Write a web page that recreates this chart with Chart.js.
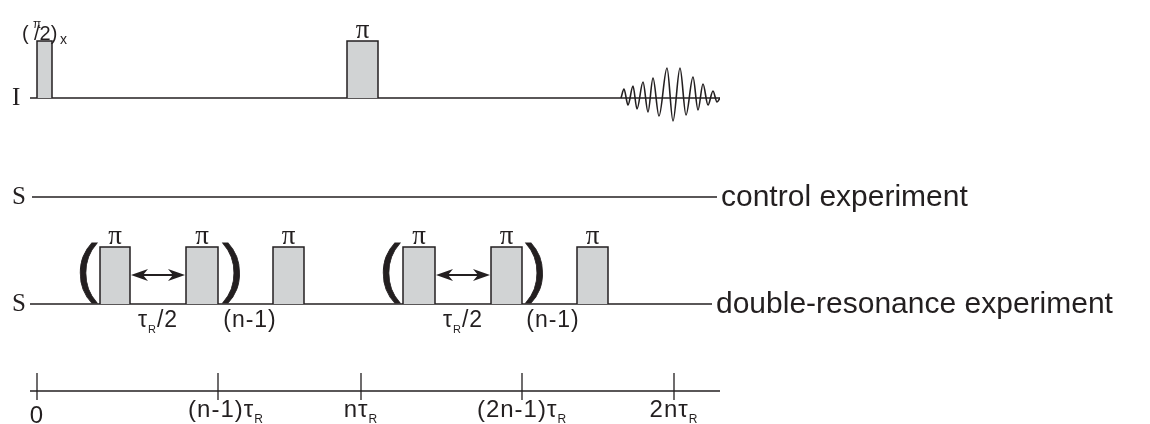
<!DOCTYPE html>
<html lang="en">
<head>
<meta charset="UTF-8">
<title>REDOR pulse sequence</title>
<style>
  html, body { margin: 0; padding: 0; background: #fff; }
  canvas { display: block; }
</style>
</head>
<body>
<canvas id="seq" width="1150" height="424"></canvas>
<script src="https://cdn.jsdelivr.net/npm/chart.js"></script>
<script>
// time runs left to right in diagram units (0 = start of the sequence),
// heights are counted up from the time axis
const timeTicks = [0, 181, 324, 485, 637];
const timeTickText = ['0', '(n-1)τ', 'nτ', '(2n-1)τ', '2nτ'];
const timeTickSub = ['', 'R', 'R', 'R', 'R'];

const channelNames = ['I', 'S', 'S'];
const channelLevel = [293, 194, 87];
const channelFrom = [-7, -5, -7];
const channelTo = [683, 680, 675];
const channelNotes = ['', 'control experiment', 'double-resonance experiment'];

const iPulseOn = [0, 310];
const iPulseOff = [15, 341];
const sPulseOn = [63, 149, 236, 366, 454, 540];
const sPulseOff = [93, 181, 267, 398, 485, 571];

const fidTime = [584, 587, 591, 596, 600, 606, 611, 616, 622, 630, 636, 643, 649, 656, 661, 666, 671, 676, 680, 683];
const fidAmp = [0, 9, -7, 12, -11, 16, -14, 20, -18, 30, -23, 30, -17, 21, -12, 14, -7, 7, -4, 0];

// (pi <-tauR/2-> pi) repeated n-1 times, then one more pi
const loopOpen = [50, 353];
const loopClose = [196, 499];
const arrowPairs = [[0, 1], [3, 4]];

const pulseHeight = 57;
const arrowHeight = 29;

const ink = '#231f20';
const grey = '#d1d3d4';
const sans = '"Liberation Sans", Arial, sans-serif';
const serif = '"Liberation Serif", "Times New Roman", serif';

function lineSet(points, width) {
  return {
    data: points,
    borderColor: ink,
    borderWidth: width || 1.5,
    pointRadius: 0,
    fill: false,
    tension: 0
  };
}

function pulseSet(on, off, lv) {
  return {
    data: [
      { x: on, y: lv },
      { x: on, y: lv + pulseHeight },
      { x: off, y: lv + pulseHeight },
      { x: off, y: lv }
    ],
    borderColor: ink,
    borderWidth: 1.5,
    backgroundColor: grey,
    fill: { value: lv },
    pointRadius: 0,
    tension: 0
  };
}

var datasets = [];
for (var i = 0; i < iPulseOn.length; i++) datasets.push(pulseSet(iPulseOn[i], iPulseOff[i], channelLevel[0]));
for (var i = 0; i < sPulseOn.length; i++) datasets.push(pulseSet(sPulseOn[i], sPulseOff[i], channelLevel[2]));

var fid = lineSet(fidTime.map((t, k) => ({ x: t, y: channelLevel[0] + fidAmp[k] })), 1.6);
fid.cubicInterpolationMode = 'monotone';
datasets.push(fid);

channelLevel.forEach((lv, k) => {
  datasets.push(lineSet([{ x: channelFrom[k], y: lv }, { x: channelTo[k], y: lv }]));
});

// time axis and its ticks
datasets.push(lineSet([{ x: -7, y: 0 }, { x: 683, y: 0 }], 1.3));
timeTicks.forEach(t => datasets.push(lineSet([{ x: t, y: 18 }, { x: t, y: -9 }], 1.3)));

// text with an optional lowered small part, e.g. tau with subscript R
function drawRun(ctx, parts, x, y, size, align) {
  var subSize = Math.round(size * 0.48);
  var widths = parts.map(p => {
    ctx.font = (p[1] ? subSize : size) + 'px ' + sans;
    return ctx.measureText(p[0]).width;
  });
  var total = widths.reduce((a, b) => a + b, 0);
  var left = align === 'center' ? x - total / 2 : x;
  ctx.textAlign = 'left';
  parts.forEach((p, k) => {
    ctx.font = (p[1] ? subSize : size) + 'px ' + sans;
    ctx.fillText(p[0], left, p[1] ? y + 6 : y);
    left += widths[k];
  });
}

function arrowHead(ctx, x, y, dir) {
  ctx.beginPath();
  ctx.moveTo(x, y);
  ctx.lineTo(x - dir * 17, y - 6);
  ctx.lineTo(x - dir * 12, y);
  ctx.lineTo(x - dir * 17, y + 6);
  ctx.closePath();
  ctx.fill();
}

const labels = {
  id: 'labels',
  afterDraw(chart) {
    const ctx = chart.ctx;
    const xs = chart.scales.x, ys = chart.scales.y;
    const px = v => xs.getPixelForValue(v);
    const py = v => ys.getPixelForValue(v);
    ctx.save();
    ctx.fillStyle = ink;
    ctx.strokeStyle = ink;
    ctx.textBaseline = 'alphabetic';

    // channel names and notes
    channelNames.forEach((name, k) => {
      ctx.font = '25px ' + serif;
      ctx.textAlign = 'left';
      ctx.fillText(name, 12, py(channelLevel[k]) + 6.5);
      if (channelNotes[k]) {
        ctx.font = '30px ' + sans;
        ctx.fillText(channelNotes[k], px(channelTo[k]) + 4, py(channelLevel[k]) + 9);
      }
    });

    // pulse flip angles
    ctx.textAlign = 'center';
    ctx.font = '27px ' + serif;
    const topI = py(channelLevel[0] + pulseHeight);
    ctx.fillText('π', (px(iPulseOn[1]) + px(iPulseOff[1])) / 2, topI - 3);
    const topS = py(channelLevel[2] + pulseHeight);
    sPulseOn.forEach((on, k) => ctx.fillText('π', (px(on) + px(sPulseOff[k])) / 2, topS - 3));

    // (pi/2)x on the first I pulse
    const l0 = px(iPulseOn[0]);
    ctx.textAlign = 'left';
    ctx.font = '20px ' + sans;
    ctx.fillText('(', l0 - 15, topI - 1);
    ctx.fillText('/2)', l0 - 3, topI - 1);
    ctx.font = '12px ' + sans;
    ctx.fillText('π', l0 - 4, topI - 13);
    ctx.font = '14px ' + sans;
    ctx.fillText('x', l0 + 23, topI + 3);

    // loop brackets
    ctx.textAlign = 'center';
    ctx.font = '64px ' + sans;
    ctx.lineWidth = 0.8;
    const by = py(channelLevel[2]) - 14;
    loopOpen.forEach(v => { ctx.fillText('(', px(v), by); ctx.strokeText('(', px(v), by); });
    loopClose.forEach(v => { ctx.fillText(')', px(v), by); ctx.strokeText(')', px(v), by); });

    // tauR/2 arrows
    const ay = py(channelLevel[2] + arrowHeight);
    const baseS = py(channelLevel[2]);
    arrowPairs.forEach(pr => {
      const a = px(sPulseOff[pr[0]]) + 1, b = px(sPulseOn[pr[1]]) - 1;
      ctx.lineWidth = 2.2;
      ctx.beginPath();
      ctx.moveTo(a + 10, ay);
      ctx.lineTo(b - 10, ay);
      ctx.stroke();
      arrowHead(ctx, a, ay, -1);
      arrowHead(ctx, b, ay, 1);
      ctx.letterSpacing = '1px';
      drawRun(ctx, [['τ', 0], ['R', 1], ['/2', 0]], (a + b) / 2, baseS + 23, 23, 'center');
      ctx.letterSpacing = '0px';
    });
    loopClose.forEach(v => {
      ctx.letterSpacing = '1px';
      drawRun(ctx, [['(n-1)', 0]], px(v + 17), baseS + 23, 23, 'center');
      ctx.letterSpacing = '0px';
    });

    // time axis labels
    const axisY = py(0);
    timeTicks.forEach((t, k) => {
      ctx.letterSpacing = '1px';
      const parts = [[timeTickText[k], 0]];
      if (timeTickSub[k]) parts.push([timeTickSub[k], 1]);
      drawRun(ctx, parts, px(t) + (k === 1 ? 8 : 0), axisY + (k === 0 ? 32 : 26), 24, 'center');
      ctx.letterSpacing = '0px';
    });
    ctx.restore();
  }
};

new Chart(document.getElementById('seq'), {
  type: 'line',
  data: { datasets: datasets },
  options: {
    responsive: false,
    devicePixelRatio: 1,
    animation: false,
    events: [],
    layout: { padding: { left: 30, right: 430, top: 0, bottom: 0 } },
    scales: {
      x: { type: 'linear', display: false, min: -7, max: 683 },
      y: { type: 'linear', display: false, min: -33, max: 391 }
    },
    plugins: {
      legend: { display: false },
      tooltip: { enabled: false }
    }
  },
  plugins: [labels]
});
</script>
</body>
</html>
